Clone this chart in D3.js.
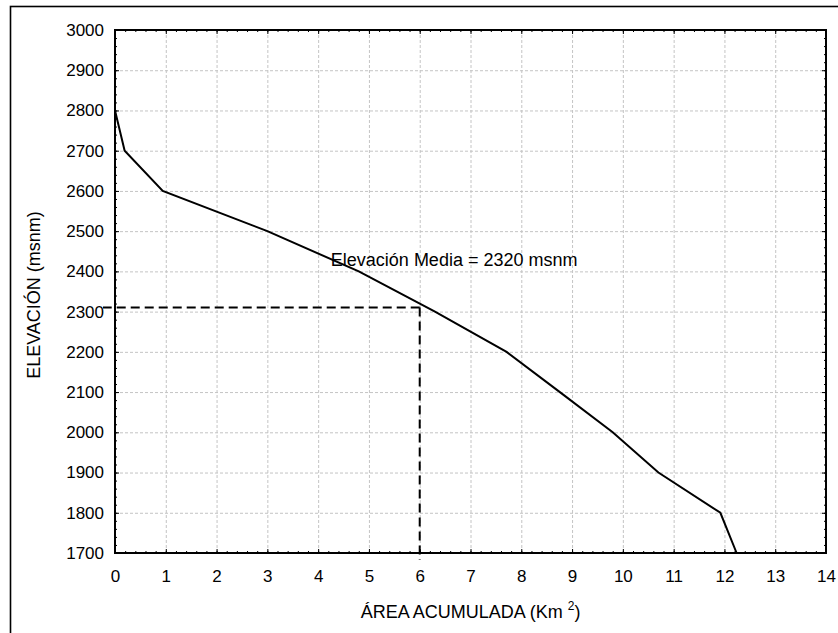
<!DOCTYPE html>
<html>
<head>
<meta charset="utf-8">
<script src="https://cdn.jsdelivr.net/npm/d3@7"></script>
<style>
  body { margin: 0; background: #fff; }
  svg { display: block; font-family: "Liberation Sans", Arial, sans-serif; }
  .grid line { stroke: #c4c4c4; stroke-width: 1; stroke-dasharray: 3,2; }
  .grid .domain { display: none; }
  .axis text { font-size: 17px; fill: #000; }
  .axis line, .axis path { stroke: #000; }
  .axis .domain { display: none; }
</style>
</head>
<body>
<div id="chart"></div>
<script>
// curva hipsometrica
var areaAcum = [0, 0.19, 0.94, 3.0, 4.8, 6.3, 7.71, 8.76, 9.8, 10.7, 11.92, 12.24];
var elevacion = [2800, 2700, 2600, 2500, 2400, 2300, 2200, 2100, 2000, 1900, 1800, 1700];

var xTicks = [0, 1, 2, 3, 4, 5, 6, 7, 8, 9, 10, 11, 12, 13, 14];
var yTicks = [1700, 1800, 1900, 2000, 2100, 2200, 2300, 2400, 2500, 2600, 2700, 2800, 2900, 3000];

// elevacion media
var mediaArea = [6];
var mediaElev = [2310];
var mediaLabel = "Elevación Media = 2320 msnm";

var margin = { top: 30, right: 12, bottom: 80, left: 115 };
var width = 838 - margin.left - margin.right,
    height = 633 - margin.top - margin.bottom;

var svg = d3.select("#chart").append("svg")
    .attr("width", 838)
    .attr("height", 633);

// marco exterior (recortado)
svg.append("rect")
    .attr("x", 10.5).attr("y", 6.5)
    .attr("width", 900).attr("height", 700)
    .attr("fill", "none")
    .attr("stroke", "#000")
    .attr("stroke-width", 1.6);

var g = svg.append("g")
    .attr("transform", "translate(" + margin.left + "," + margin.top + ")");

var x = d3.scaleLinear().domain([0, 14]).range([0, width]);
var y = d3.scaleLinear().domain([1700, 3000]).range([height, 0]);

var xMinor = d3.range(0, 14.001, 0.2);
var yMinor = d3.range(1700, 3000.1, 20);

// grid
g.append("g").attr("class", "grid")
    .attr("transform", "translate(0," + height + ")")
    .call(d3.axisBottom(x).tickValues(xTicks).tickSize(-height).tickFormat(""));
g.append("g").attr("class", "grid")
    .call(d3.axisLeft(y).tickValues(yTicks).tickSize(-width).tickFormat(""));

// linea de elevacion media
g.append("line")
    .attr("x1", x(mediaArea[0]))
    .attr("x2", x(0) - 12)
    .attr("y1", y(mediaElev[0]))
    .attr("y2", y(mediaElev[0]))
    .attr("stroke", "#000")
    .attr("stroke-width", 2)
    .attr("stroke-dasharray", "9,5");
g.append("line")
    .attr("x1", x(mediaArea[0]))
    .attr("x2", x(mediaArea[0]))
    .attr("y1", y(mediaElev[0]))
    .attr("y2", height + 7)
    .attr("stroke", "#000")
    .attr("stroke-width", 2)
    .attr("stroke-dasharray", "9,5");

// curva
var line = d3.line()
    .x(function(d, i) { return x(areaAcum[i]); })
    .y(function(d) { return y(d); });

g.append("path")
    .datum(elevacion)
    .attr("d", line)
    .attr("fill", "none")
    .attr("stroke", "#000")
    .attr("stroke-width", 2);

g.append("text")
    .attr("x", x(4.25))
    .attr("y", y(2414))
    .attr("font-size", 18)
    .text(mediaLabel);

// ejes con marcas hacia adentro
function addAxis(axis, tx, ty, labels, pad) {
    var a = g.append("g").attr("class", "axis")
        .attr("transform", "translate(" + tx + "," + ty + ")");
    a.call(axis.tickSize(-4).tickPadding(pad));
    if (!labels) a.selectAll("text").remove();
    return a;
}

addAxis(d3.axisBottom(x).tickValues(xTicks).tickFormat(d3.format("d")), 0, height, true, 17);
addAxis(d3.axisBottom(x).tickValues(xMinor).tickFormat(""), 0, height, false, 0)
    .selectAll("line").attr("y2", -2);
addAxis(d3.axisTop(x).tickValues(xTicks), 0, 0, false, 0);
addAxis(d3.axisTop(x).tickValues(xMinor).tickFormat(""), 0, 0, false, 0)
    .selectAll("line").attr("y2", 2);

addAxis(d3.axisLeft(y).tickValues(yTicks).tickFormat(d3.format("d")), 0, 0, true, 11);
addAxis(d3.axisLeft(y).tickValues(yMinor).tickFormat(""), 0, 0, false, 0)
    .selectAll("line").attr("x2", 2);
addAxis(d3.axisRight(y).tickValues(yTicks), width, 0, false, 0);
addAxis(d3.axisRight(y).tickValues(yMinor).tickFormat(""), width, 0, false, 0)
    .selectAll("line").attr("x2", -2);

// marco del grafico
g.append("rect")
    .attr("width", width)
    .attr("height", height)
    .attr("fill", "none")
    .attr("stroke", "#000")
    .attr("stroke-width", 2);

// titulos
var xt = g.append("text")
    .attr("x", width / 2)
    .attr("y", height + 65)
    .attr("text-anchor", "middle")
    .attr("font-size", 18);
xt.append("tspan").text("ÁREA ACUMULADA (Km ");
xt.append("tspan").attr("font-size", 12).attr("dy", -8).text("2");
xt.append("tspan").attr("dy", 8).text(")");

g.append("text")
    .attr("transform", "translate(" + (-75.5) + "," + (height / 2 + 3.5) + ") rotate(-90)")
    .attr("text-anchor", "middle")
    .attr("font-size", 18)
    .text("ELEVACIÓN (msnm)");
</script>
</body>
</html>
